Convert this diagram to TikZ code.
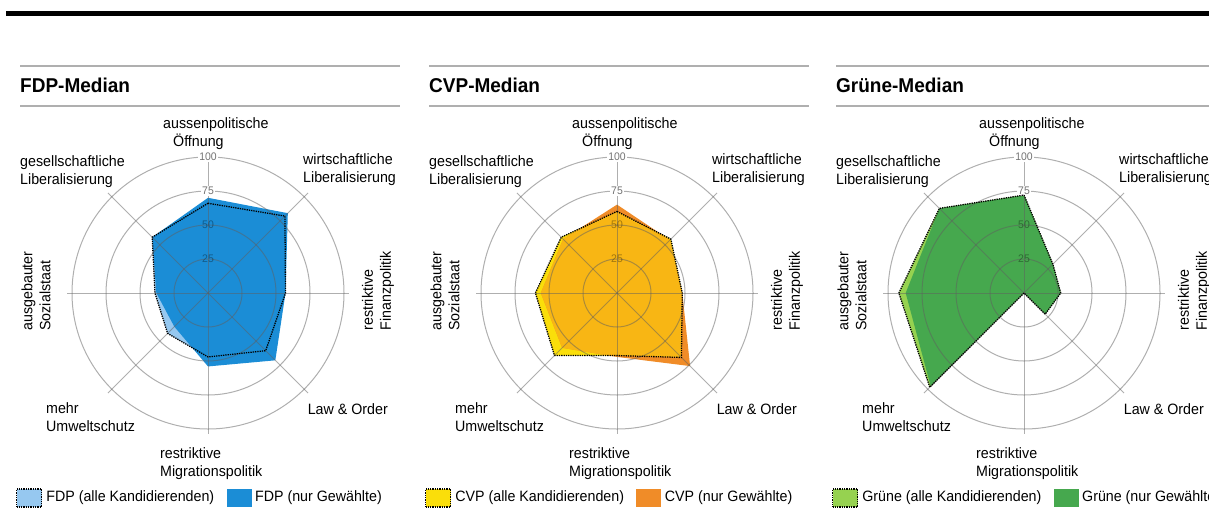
\documentclass[tikz,border=0pt]{standalone}
\usepackage{fontspec}
\setmainfont{Liberation Sans}[FakeStretch=0.95]
\usetikzlibrary{positioning}

\definecolor{fdplight}{RGB}{150,200,240}
\definecolor{fdpdark}{RGB}{27,141,214}
\definecolor{cvplight}{RGB}{250,222,10}
\definecolor{cvpdark}{RGB}{240,140,40}
\definecolor{cvpmix}{RGB}{248,182,20}
\definecolor{gruenlight}{RGB}{150,210,80}
\definecolor{gruendark}{RGB}{70,168,78}
\definecolor{webgray}{RGB}{95,95,95}
\definecolor{rulegray}{RGB}{175,175,175}

\begin{document}
\begin{tikzpicture}[x=1pt, y=-1pt, node distance=4pt,
    axis/.style = {font=\fontsize{15}{18}\selectfont, inner sep=0pt, align=left},
    tick/.style = {font=\fontsize{11}{12}\selectfont, text=black!55, fill=white, inner sep=1pt},
    tickin/.style = {font=\fontsize{11}{12}\selectfont, text=black, text opacity=0.35, inner sep=1pt},
    title/.style = {font=\fontsize{20}{22}\selectfont\bfseries, inner sep=0pt, anchor=base west},
    entry/.style = {font=\fontsize{15}{18}\selectfont, inner sep=0pt},
    swatch/.style = {minimum width=25pt, minimum height=18pt, inner sep=0pt},
    web/.style = {draw=webgray, draw opacity=0.5, line width=1pt},
    allline/.style = {draw=black, densely dotted, line width=1.3pt}]
  \useasboundingbox (0,0) rectangle (1209,517);
  \clip (0,0) rectangle (1209,517);

  \draw[line width=5pt] (6,13.5) -- (1209,13.5);

  % FDP fills
  \begin{scope}[shift={(208,293)}, x=1.36pt, y=1.36pt]
    \fill[fdplight] (90:66) -- (45:80) -- (0:57) -- (-45:60) -- (-90:47) -- (-135:42) -- (180:39) -- (135:58) -- cycle;
    \fill[fdpdark] (90:70) -- (45:83) -- (0:57) -- (-45:70) -- (-90:54) -- (-135:35) -- (180:38) -- (135:58) -- cycle;
  \end{scope}

  % CVP fills
  \begin{scope}[shift={(617,293)}, x=1.36pt, y=1.36pt]
    \fill[cvplight] (90:60) -- (45:56) -- (0:48) -- (-45:67) -- (-90:46) -- (-135:65) -- (180:60) -- (135:58) -- cycle;
    \fill[cvpdark] (90:65) -- (45:55) -- (0:48) -- (-45:76) -- (-90:47) -- (-135:57) -- (180:56) -- (135:56) -- cycle;
    \begin{scope}
      \clip (90:60) -- (45:56) -- (0:48) -- (-45:67) -- (-90:46) -- (-135:65) -- (180:60) -- (135:58) -- cycle;
      \fill[cvpmix] (90:65) -- (45:55) -- (0:48) -- (-45:76) -- (-90:47) -- (-135:57) -- (180:56) -- (135:56) -- cycle;
    \end{scope}
  \end{scope}

  % Gruene fills
  \begin{scope}[shift={(1024,293)}, x=1.36pt, y=1.36pt]
    \fill[gruenlight] (90:72) -- (45:30) -- (0:27) -- (-45:22) -- (-90:0) -- (-135:98) -- (180:92) -- (135:88) -- cycle;
    \fill[gruendark] (90:72) -- (45:30) -- (0:27) -- (-45:22) -- (-90:0) -- (-135:97) -- (180:87) -- (135:88) -- cycle;
  \end{scope}

  % grid, labels and legend of the three panels
  \foreach \cx/\pn/\party/\light/\dark in {208/F/FDP/fdplight/fdpdark, 617/C/CVP/cvplight/cvpdark, 1024/G/Grüne/gruenlight/gruendark} {
    \begin{scope}[shift={(\cx,293)}]
      \begin{scope}[x=1.36pt, y=1.36pt]
        \foreach \r in {25,50,75,100} \draw[web] (0,0) circle[radius=\r];
        \foreach \a in {0,45,...,315} \draw[web] (0,0) -- (\a:104);
        \foreach \r in {75,100} \node[tick] (tick\pn\r) at (90:\r) {\r};
        \foreach \r in {25,50} \node[tickin] (tick\pn\r) at (90:\r) {\r};
      \end{scope}

      \draw[rulegray, line width=2.5pt] (-188,-227) -- (192,-227);
      \draw[rulegray, line width=2.5pt] (-188,-187) -- (192,-187);
      \node[title] (title\pn) at (-188,-201) {\party-Median};

      \node[axis, anchor=north west] (aussen\pn) at (-45,-176) {aussenpolitische\\\hspace*{10pt}Öffnung};
      \node[axis, anchor=north west] (wirt\pn) at (95,-140) {wirtschaftliche\\Liberalisierung};
      \node[axis, anchor=north west] (gesell\pn) at (-188,-138) {gesellschaftliche\\Liberalisierung};
      \node[axis, rotate=90] (sozial\pn) at (-172,-2) {ausgebauter\\Sozialstaat};
      \node[axis, rotate=90] (finanz\pn) at (170,-2) {restriktive\\Finanzpolitik};
      \node[axis, anchor=north east] (law\pn) at (180,110) {Law \& Order};
      \node[axis, anchor=north west] (umwelt\pn) at (-162,109) {mehr\\Umweltschutz};
      \node[axis, anchor=north west] (migr\pn) at (-48,154) {restriktive\\Migrationspolitik};

      \node[swatch, fill=\light, allline] (alle\pn) at (-179,205) {};
      \node[entry, right=of alle\pn] (alletext\pn) {\party\ (alle Kandidierenden)};
      \node[swatch, fill=\dark, right=12pt of alletext\pn] (nur\pn) {};
      \node[entry, right=3pt of nur\pn] (nurtext\pn) {\party\ (nur Gewählte)};
    \end{scope}
  }

  % dotted outlines (alle Kandidierenden)
  \begin{scope}[shift={(208,293)}, x=1.36pt, y=1.36pt]
    \draw[allline] (90:66) -- (45:80) -- (0:57) -- (-45:60) -- (-90:47) -- (-135:42) -- (180:39) -- (135:58) -- cycle;
  \end{scope}
  \begin{scope}[shift={(617,293)}, x=1.36pt, y=1.36pt]
    \draw[allline] (90:60) -- (45:56) -- (0:48) -- (-45:67) -- (-90:46) -- (-135:65) -- (180:60) -- (135:58) -- cycle;
  \end{scope}
  \begin{scope}[shift={(1024,293)}, x=1.36pt, y=1.36pt]
    \draw[allline] (90:72) -- (45:30) -- (0:27) -- (-45:22) -- (-90:0) -- (-135:98) -- (180:92) -- (135:88) -- cycle;
  \end{scope}
\end{tikzpicture}
\end{document}
